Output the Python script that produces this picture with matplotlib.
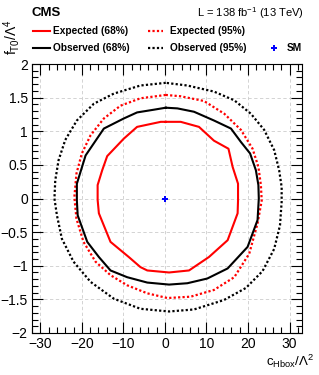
import numpy as np
import matplotlib
matplotlib.use("Agg")
import matplotlib.pyplot as plt
from matplotlib.lines import Line2D
from matplotlib.ticker import MultipleLocator

plt.rcParams['font.family'] = ['Liberation Sans', 'DejaVu Sans']
plt.rcParams['mathtext.fontset'] = 'custom'
plt.rcParams['mathtext.rm'] = 'Liberation Sans'
plt.rcParams['mathtext.it'] = 'Liberation Sans'
plt.rcParams['mathtext.bf'] = 'Liberation Sans:bold'

# contour points (c_Hbox, f_T0)
exp68_x = [0.2, -1.0, -6.7, -9.9, -13.9, -15.1, -16.2, -16.2, -15.9, -13.1, -8.7, -5.9, -4.25, 1.0,
           5.8, 10.6, 15.1, 17.5, 17.6, 17.6, 16.3, 15.3, 11.8, 8.2, 3.8, 0.2]
exp68_y = [1.14, 1.14, 1.065, 0.89, 0.63, 0.42, 0.2, -0.02, -0.22, -0.645, -0.87, -1.02, -1.07, -1.10,
           -1.07, -0.87, -0.62, -0.22, -0.03, 0.22, 0.47, 0.74, 0.86, 1.065, 1.14, 1.14]

obs68_x = [0.2, -2.7, -6.7, -9.9, -14.7, -19.1, -21.2, -21.2, -21.0, -18.7, -15.9, -13.1, -9.1, -4.25,
           1.0, 5.4, 10.2, 15.1, 19.9, 22.3, 22.6, 22.5, 21.9, 20.5, 18.3, 15.9, 11.8, 7.0, 3.0, 0.2]
obs68_y = [1.35, 1.32, 1.28, 1.19, 1.04, 0.64, 0.22, -0.03, -0.25, -0.645, -0.87, -1.07, -1.17, -1.25,
           -1.28, -1.26, -1.19, -1.04, -0.72, -0.32, 0.0, 0.2, 0.42, 0.67, 0.84, 1.04, 1.16, 1.29, 1.34, 1.35]

exp95_x = [0.2, -5.9, -10.7, -14.7, -17.9, -20.0, -21.3, -21.8, -21.3, -19.6, -16.7, -13.1, -9.1, -4.25,
           0.6, 6.2, 11.8, 16.7, 20.3, 22.3, 23.3, 23.1, 22.5, 21.1, 18.3, 14.3, 9.4, 3.8, 0.2]
exp95_y = [1.54, 1.49, 1.38, 1.19, 0.94, 0.67, 0.37, 0.02, -0.30, -0.645, -0.94, -1.14, -1.29, -1.41,
           -1.48, -1.46, -1.36, -1.17, -0.82, -0.37, -0.03, 0.2, 0.47, 0.74, 1.02, 1.26, 1.45, 1.52, 1.54]

obs95_x = [0.2, -5.9, -12.3, -17.1, -21.2, -24.0, -25.6, -26.4, -26.6, -26.0, -24.8, -22.0, -17.9, -12.3,
           -5.9, 1.0, 7.0, 14.2, 19.5, 23.5, 26.3, 27.7, 28.1, 28.1, 27.5, 26.3, 23.9, 20.7, 16.7, 11.8, 5.4, 0.2]
obs95_y = [1.72, 1.68, 1.56, 1.41, 1.16, 0.87, 0.57, 0.27, 0.0, -0.25, -0.6, -0.94, -1.24, -1.49,
           -1.64, -1.68, -1.65, -1.51, -1.33, -1.08, -0.75, -0.4, -0.05, 0.17, 0.42, 0.72, 1.02, 1.26, 1.46, 1.59, 1.68, 1.72]

sm_x = [0.0]
sm_y = [0.0]

W, H = 319, 375
fig = plt.figure(figsize=(W / 100, H / 100), dpi=100)
ax = fig.add_axes([32 / W, 1 - 333 / H, 270 / W, 269 / H])

dot = (0, (1, 1))
ax.plot(obs95_x, obs95_y, color='black', lw=1.6, ls=dot)
ax.plot(exp95_x, exp95_y, color='red', lw=1.6, ls=dot)
ax.plot(obs68_x, obs68_y, color='black', lw=1.5)
ax.plot(exp68_x, exp68_y, color='red', lw=1.5)
ax.plot(sm_x, sm_y, 'P', color='blue', ms=5, mew=0)

ax.set_xlim(-32, 33)
ax.set_ylim(-2, 2)
ax.xaxis.set_major_locator(MultipleLocator(10))
ax.xaxis.set_minor_locator(MultipleLocator(2))
ax.yaxis.set_minor_locator(MultipleLocator(0.1))
ax.set_yticks([-2, -1.5, -1, -0.5, 0, 0.5, 1, 1.5, 2])
ax.set_yticklabels(['\u22122', '\u22121.5', '\u22121', '\u22120.5', '0', '0.5', '1', '1.5', '2'])
ax.tick_params(which='both', direction='in', top=True, right=True, labelsize=10, pad=3)
ax.tick_params(which='major', length=8, width=0.8)
ax.tick_params(which='minor', length=4, width=0.8)
ax.grid(True, which='major', color='#cccccc', ls=(0, (4, 3)), lw=0.6)
ax.set_axisbelow(True)

def fx(px):
    return px / W

def fy(py):
    return 1 - py / H

fig.text(fx(32), fy(13), 'CMS', fontsize=9.5, fontweight='bold', ha='left', va='center')
fig.text(fx(304), fy(13), r'L = 138 fb$^{-1}$ (13 TeV)', fontsize=8, ha='right', va='center')

# legend drawn by hand
fs = 7.3
fig.add_artist(Line2D([fx(33), fx(50)], [fy(31), fy(31)], color='red', lw=1.5, transform=fig.transFigure))
fig.text(fx(53), fy(31), 'Expected (68%)', fontsize=fs, fontweight='bold', va='center')
fig.add_artist(Line2D([fx(148), fx(163)], [fy(31), fy(31)], color='red', lw=1.6, ls=dot, transform=fig.transFigure))
fig.text(fx(170), fy(31), 'Expected (95%)', fontsize=fs, fontweight='bold', va='center')
fig.add_artist(Line2D([fx(33), fx(50)], [fy(48), fy(48)], color='black', lw=1.5, transform=fig.transFigure))
fig.text(fx(53), fy(48), 'Observed (68%)', fontsize=fs, fontweight='bold', va='center')
fig.add_artist(Line2D([fx(148), fx(163)], [fy(48), fy(48)], color='black', lw=1.6, ls=dot, transform=fig.transFigure))
fig.text(fx(170), fy(48), 'Observed (95%)', fontsize=fs, fontweight='bold', va='center')
fig.add_artist(Line2D([fx(274)], [fy(48)], marker='P', color='blue', ms=5, mew=0, transform=fig.transFigure))
fig.text(fx(287), fy(48), 'SM', fontsize=fs, fontweight='bold', va='center')

fig.text(fx(314), fy(366), r'$c_{Hbox}/\Lambda^{2}$', fontsize=9.5, ha='right', va='baseline')
fig.text(fx(12), fy(19), r'$f_{T0}/\Lambda^{4}$', fontsize=10, rotation=90, ha='center', va='top')

fig.savefig('out.png', dpi=100)
